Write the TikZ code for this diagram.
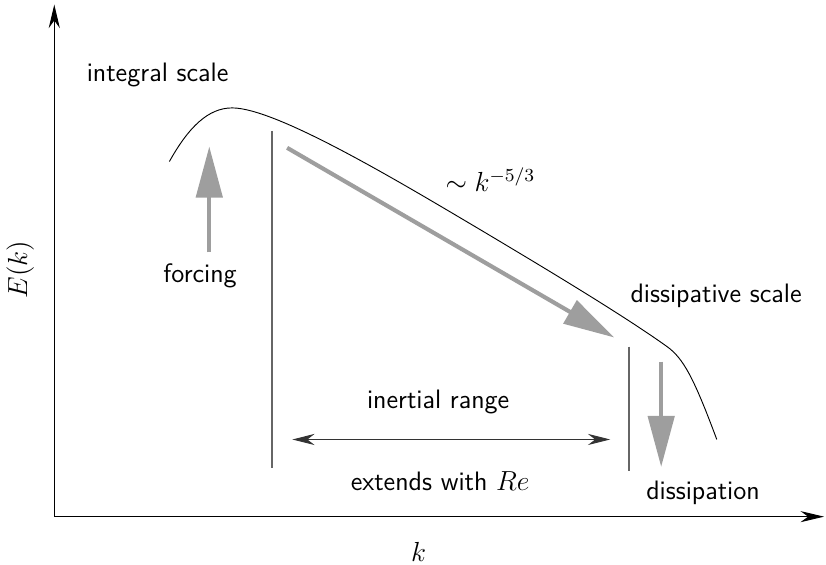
\documentclass[tikz,border=0pt]{standalone}
\usepackage{amsmath}
\usepackage{tikz}
\usetikzlibrary{arrows.meta,positioning}

\begin{document}
\begin{tikzpicture}[
  font=\sffamily\fontsize{11.6pt}{14pt}\selectfont,
  axis/.style={-{Stealth[length=3.6mm,width=1.7mm]}},
  flux/.style={-{Triangle[length=0.78cm,width=0.4cm]}, line width=1.8pt, black!38},
  bound/.style={black!60, thick},
  spanarrow/.style={{Stealth[length=3.4mm,width=1.7mm]}-{Stealth[length=3.4mm,width=1.7mm]}, black!80}
]
\useasboundingbox (-0.83,-0.73) rectangle (11.80,7.90);
% axes
\coordinate (o) at (0,0);
\coordinate (ytop) at (0,7.83);
\coordinate (xend) at (11.77,0);
\draw[axis] (o) -- (ytop);
\draw[axis] (o) -- (xend);
\node[rotate=90] (ylab) at (-0.52,3.78) {$E(k)$};
\node (xlab) at (5.57,-0.54) {$k$};
% spectrum
\coordinate (s0) at (1.76,5.43);
\coordinate (peak) at (2.72,6.25);
\coordinate (s1) at (6.51,4.39);
\coordinate (knee) at (9.37,2.60);
\coordinate (s2) at (10.13,1.18);
\draw (s0) .. controls (2.05,5.95) and (2.35,6.25) .. (peak)
  .. controls (3.40,6.25) and (5.31,5.10) .. (s1)
  .. controls (7.50,3.80) and (8.70,3.08) .. (knee)
  .. controls (9.62,2.42) and (9.78,2.12) .. (s2);
% range boundaries
\coordinate (b1) at (3.33,5.90);
\coordinate (b2) at (3.33,0.75);
\coordinate (b3) at (8.79,2.60);
\coordinate (b4) at (8.79,0.70);
\draw[bound] (b1) -- (b2);
\draw[bound] (b3) -- (b4);
% labels
\node (integral) at (1.58,6.76) {integral scale};
\node (forcing) at (2.23,3.68) {forcing};
\node (slope) at (6.67,5.15) {$\sim k^{-5/3}$};
\node (dissc) at (10.12,3.38) {dissipative scale};
\node (diss) at (9.92,0.37) {dissipation};
\node (inertial) at (5.87,1.76) {inertial range};
\node (extends) at (5.90,0.54) {extends with $Re$};
% arrows
\coordinate (f0) at (2.37,4.04);
\coordinate (f1) at (2.37,5.66);
\coordinate (c0) at (3.56,5.64);
\coordinate (c1) at (8.56,2.74);
\coordinate (d0) at (9.28,2.37);
\coordinate (d1) at (9.28,0.76);
\draw[flux] (f0) -- (f1);
\draw[flux] (c0) -- (c1);
\draw[flux] (d0) -- (d1);
\coordinate (r0) at (3.64,1.18);
\coordinate (r1) at (8.50,1.18);
\draw[spanarrow] (r0) -- (r1);
\end{tikzpicture}
\end{document}
